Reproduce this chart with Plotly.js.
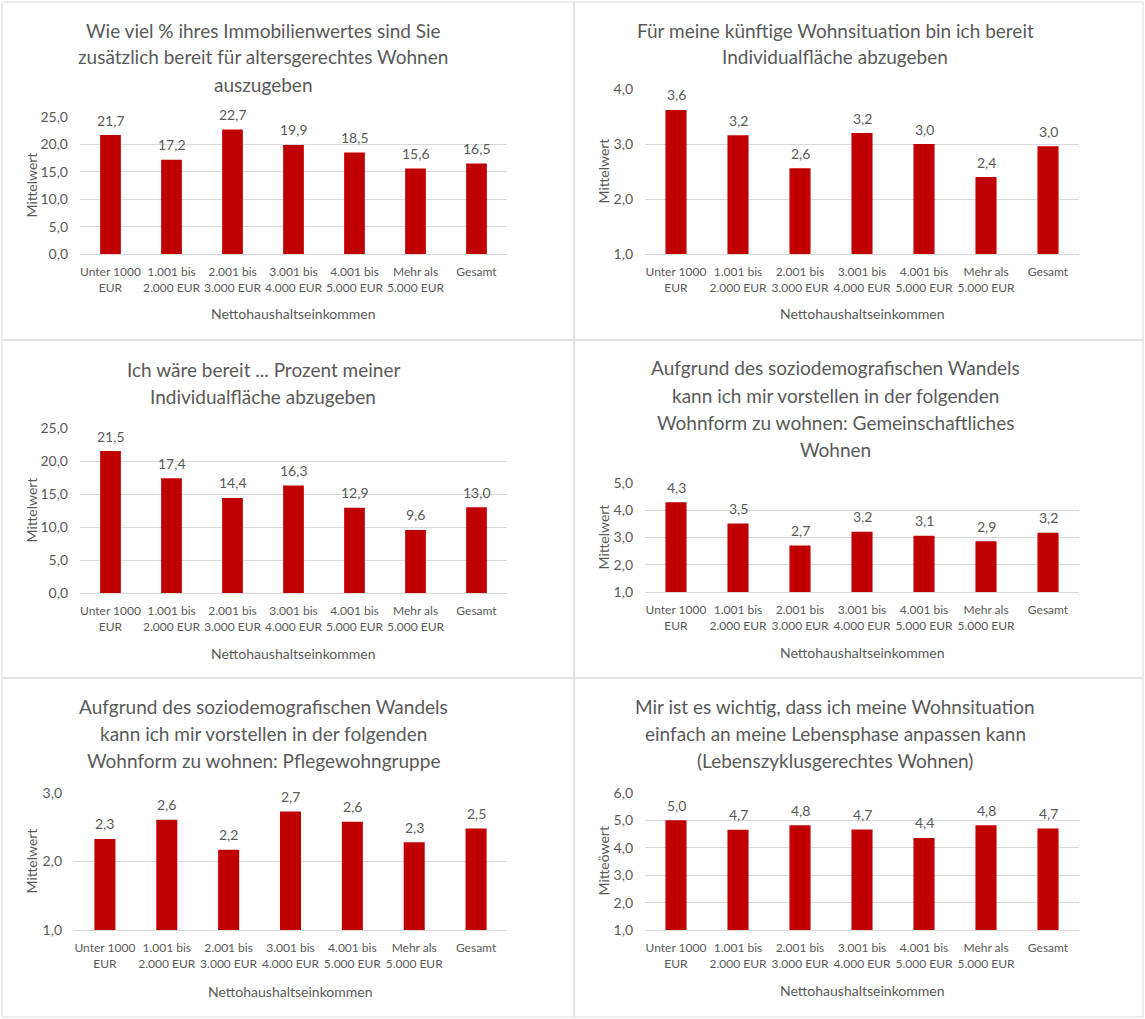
<!DOCTYPE html>
<html>
<head>
<meta charset="utf-8">
<script src="https://cdn.plot.ly/plotly-3.0.1.min.js"></script>
<style>html,body{margin:0;padding:0;background:#fff;}#chart{width:1145px;height:1019px;}</style>
</head>
<body>
<div id="chart"></div>
<script>
// ---- data ----
const categories = ["Unter 1000<br>EUR", "1.001 bis<br>2.000 EUR", "2.001 bis<br>3.000 EUR", "3.001 bis<br>4.000 EUR", "4.001 bis<br>5.000 EUR", "Mehr als<br>5.000 EUR", "Gesamt"];
const immobilienwert = [21.7, 17.2, 22.7, 19.9, 18.5, 15.6, 16.5];
const flaecheBereit = [3.62, 3.16, 2.56, 3.2, 3.0, 2.4, 2.96];
const flaecheProzent = [21.5, 17.4, 14.4, 16.3, 12.9, 9.56, 13.0];
const gemeinschaftlich = [4.29, 3.51, 2.71, 3.21, 3.06, 2.86, 3.17];
const pflegewohngruppe = [2.33, 2.61, 2.17, 2.73, 2.58, 2.28, 2.48];
const lebenszyklus = [5.01, 4.66, 4.82, 4.67, 4.36, 4.82, 4.70];
const titles = [
  ["Wie viel % ihres Immobilienwertes sind Sie", "zusätzlich bereit für altersgerechtes Wohnen", "auszugeben"],
  ["Für meine künftige Wohnsituation bin ich bereit", "Individualfläche abzugeben"],
  ["Ich wäre bereit ... Prozent meiner", "Individualfläche abzugeben"],
  ["Aufgrund des soziodemografischen Wandels", "kann ich mir vorstellen in der folgenden", "Wohnform zu wohnen: Gemeinschaftliches", "Wohnen"],
  ["Aufgrund des soziodemografischen Wandels", "kann ich mir vorstellen in der folgenden", "Wohnform zu wohnen: Pflegewohngruppe"],
  ["Mir ist es wichtig, dass ich meine Wohnsituation", "einfach an meine Lebensphase anpassen kann", "(Lebenszyklusgerechtes Wohnen)"]
];
const xTitle = "Nettohaushaltseinkommen";
const yTitles = ["Mittelwert", "Mittelwert", "Mittelwert", "Mittelwert", "Mittelwert", "Mitteöwert"];
const yRanges = [[0, 25], [1, 4], [0, 25], [1, 5], [1, 3], [1, 6]];
const yDticks = [5, 1, 5, 1, 1, 1];

// ---- layout geometry (pixels) ----
const W = 1145, H = 1019;
const series = [immobilienwert, flaecheBereit, flaecheProzent, gemeinschaftlich, pflegewohngruppe, lebenszyklus];
const plotBox = [ // [x0, x1, yTop, yBottom]
  [80, 507, 117, 254],
  [645, 1079, 89, 254],
  [80, 507, 428, 593],
  [645, 1079, 483, 592],
  [74, 507, 793, 930],
  [645, 1079, 793, 930]
];
const titleX = [263, 835, 263, 835, 263, 835];
const titleY0 = [30, 30, 369, 368, 706, 706];
const xTitleY = [313, 313, 653, 652, 991, 990];
const yTitleX = [31, 603, 31, 603, 31, 603];
const lineStep = 27;

const FONT = "Lato, 'Open Sans', sans-serif";
const GREY = "#595959";
const traces = [];
const layout = {
  width: W, height: H,
  margin: {l: 0, r: 0, t: 0, b: 0},
  paper_bgcolor: "#fff", plot_bgcolor: "#fff",
  showlegend: false,
  separators: ",.",
  font: {family: FONT, color: GREY, size: 13},
  bargap: 0.66,
  annotations: [],
  shapes: []
};

const fmt = v => v.toFixed(1).replace(".", ",");

series.forEach((vals, i) => {
  const n = i + 1;
  const xa = n === 1 ? "x" : "x" + n;
  const ya = n === 1 ? "y" : "y" + n;
  traces.push({
    type: "bar", x: categories, y: vals, xaxis: xa, yaxis: ya,
    marker: {color: "#c00000"}, hoverinfo: "skip"
  });
  // data labels above bars
  vals.forEach((v, k) => {
    layout.annotations.push({
      xref: xa, yref: ya, x: categories[k], y: v,
      xanchor: "center", yanchor: "middle", yshift: 15, showarrow: false,
      text: fmt(v), font: {family: FONT, size: 14, color: GREY}
    });
  });
  const b = plotBox[i];
  layout["xaxis" + (n === 1 ? "" : n)] = {
    domain: [b[0] / W, b[1] / W], anchor: ya,
    showgrid: false, showline: true, linecolor: "#d9d9d9", linewidth: 1,
    ticks: "", tickangle: 0, ticklabelstandoff: 7,
    tickfont: {size: 12, color: GREY, family: FONT},
    automargin: false, fixedrange: true
  };
  layout["yaxis" + (n === 1 ? "" : n)] = {
    domain: [1 - b[3] / H, 1 - b[2] / H], anchor: xa,
    range: yRanges[i], dtick: yDticks[i], tick0: 0, tickformat: ".1f",
    showgrid: true, gridcolor: "#d9d9d9", gridwidth: 1,
    zeroline: false, showline: false, ticks: "", ticklabelstandoff: 11,
    tickfont: {size: 14, color: GREY, family: FONT},
    automargin: false, fixedrange: true
  };
  // chart title lines
  titles[i].forEach((line, k) => {
    layout.annotations.push({
      xref: "paper", yref: "paper",
      x: titleX[i] / W, y: 1 - (titleY0[i] + k * lineStep) / H,
      xanchor: "center", yanchor: "middle", showarrow: false,
      text: line, font: {family: FONT, size: 19, color: GREY}
    });
  });
  // x axis title
  layout.annotations.push({
    xref: "paper", yref: "paper",
    x: (b[0] + b[1]) / 2 / W, y: 1 - xTitleY[i] / H,
    xanchor: "center", yanchor: "middle", showarrow: false,
    text: xTitle, font: {family: FONT, size: 14, color: GREY}
  });
  // y axis title
  layout.annotations.push({
    xref: "paper", yref: "paper",
    x: yTitleX[i] / W, y: 1 - (b[2] + b[3]) / 2 / H,
    xanchor: "center", yanchor: "middle", showarrow: false, textangle: -90,
    text: yTitles[i], font: {family: FONT, size: 14, color: GREY}
  });
});

// panel borders
const vx = [2, 574, 1143];
const hy = [2, 340, 678, 1017];
for (let r = 0; r < 3; r++) {
  for (let c = 0; c < 2; c++) {
    layout.shapes.push({
      type: "rect", xref: "paper", yref: "paper",
      x0: vx[c] / W, x1: vx[c + 1] / W,
      y0: 1 - hy[r + 1] / H, y1: 1 - hy[r] / H,
      line: {color: "#d9d9d9", width: 1}, fillcolor: "rgba(0,0,0,0)", layer: "below"
    });
  }
}

Plotly.newPlot("chart", traces, layout, {displayModeBar: false, staticPlot: true});
</script>
</body>
</html>
